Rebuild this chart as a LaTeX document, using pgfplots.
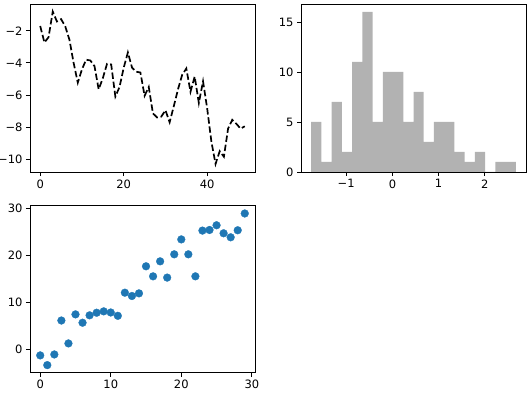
\documentclass[border=0pt]{standalone}
\usepackage{pgfplots}
\pgfplotsset{compat=1.18}
\usepackage{fontspec}
\setmainfont{DejaVu Sans}
\definecolor{tabblue}{HTML}{1F77B4}
\definecolor{histgray}{RGB}{178,178,178}
\pgfplotsset{
  mystyle/.style={
    scale only axis, anchor=south west,
    tick align=outside, xtick pos=left, ytick pos=left,
    major tick length=4pt,
    tick style={black, line width=0.9pt},
    axis line style={black, line width=0.9pt},
    ticklabel style={font=\fontsize{11.5}{13}\selectfont, text=black},
    /pgf/number format/assume math mode=true,
    clip=true,
  }
}
\begin{document}
\begin{tikzpicture}
\useasboundingbox (0pt,0pt) rectangle (531pt,397pt);
% Panel 1: dashed line
\begin{axis}[mystyle, at={(30pt,225pt)}, width=225pt, height=168pt,
  xmin=-2.45, xmax=51.45, ymin=-10.8, ymax=-0.33,
  xtick={0,20,40}, xticklabels={0,20,40},
  ytick={-10,-8,-6,-4,-2}, yticklabels={−10,−8,−6,−4,−2}]
\addplot[black, line width=1.7pt, dash pattern=on 6.4pt off 2.8pt] coordinates {
(0,-1.70) (1,-2.73) (2,-2.40) (3,-0.80) (4,-1.42) (5,-1.27) (6,-1.73) (7,-2.56)
(8,-4.00) (9,-5.23) (10,-4.40) (11,-3.80) (12,-3.85) (13,-4.20) (14,-5.65) (15,-4.95)
(16,-4.06) (17,-4.10) (18,-6.10) (19,-5.50) (20,-4.30) (21,-3.35) (22,-4.30) (23,-4.55)
(24,-4.60) (25,-6.05) (26,-5.50) (27,-7.15) (28,-7.40) (29,-7.35) (30,-6.95) (31,-7.70)
(32,-6.70) (33,-5.65) (34,-4.75) (35,-4.35) (36,-5.80) (37,-4.85) (38,-6.50) (39,-5.15)
(40,-6.85) (41,-8.90) (42,-10.30) (43,-9.50) (44,-9.85) (45,-8.10) (46,-7.55) (47,-7.80)
(48,-8.10) (49,-7.95)
};
\end{axis}
% Panel 2: histogram
\begin{axis}[mystyle, at={(301pt,225pt)}, width=225pt, height=168pt,
  xmin=-1.977, xmax=2.889, ymin=0, ymax=16.8,
  xtick={-1,0,1,2}, xticklabels={−1,0,1,2},
  ytick={0,5,10,15}, yticklabels={0,5,10,15}]
\addplot[ybar interval, fill=histgray, draw=none] coordinates {
(-1.756,5) (-1.535,1) (-1.314,7) (-1.092,2) (-0.871,11) (-0.650,16) (-0.429,5)
(-0.208,10) (0.014,10) (0.235,5) (0.456,8) (0.677,3) (0.898,5) (1.120,5)
(1.341,2) (1.562,1) (1.783,2) (2.004,0) (2.226,1) (2.447,1) (2.668,1)
};
\end{axis}
% Panel 3: scatter
\begin{axis}[mystyle, at={(30pt,24.3pt)}, width=225pt, height=167pt,
  xmin=-1.45, xmax=30.45, ymin=-4.87, ymax=30.55,
  xtick={0,10,20,30}, xticklabels={0,10,20,30},
  ytick={0,10,20,30}, yticklabels={0,10,20,30}]
\addplot[tabblue, only marks, mark=*, mark size=3.9pt, mark options={fill=tabblue, draw=tabblue, line width=0.3pt}] coordinates {
(0,-1.2) (1,-3.26) (2,-1.0) (3,6.2) (4,1.34) (5,7.5) (6,5.73) (7,7.3) (8,7.85) (9,8.14)
(10,7.9) (11,7.2) (12,12.1) (13,11.4) (14,11.96) (15,17.7) (16,15.57) (17,18.75) (18,15.3) (19,20.24)
(20,23.4) (21,20.24) (22,15.57) (23,25.27) (24,25.4) (25,26.4) (26,24.7) (27,23.85) (28,25.34) (29,28.9)
};
\end{axis}
\end{tikzpicture}
\end{document}
